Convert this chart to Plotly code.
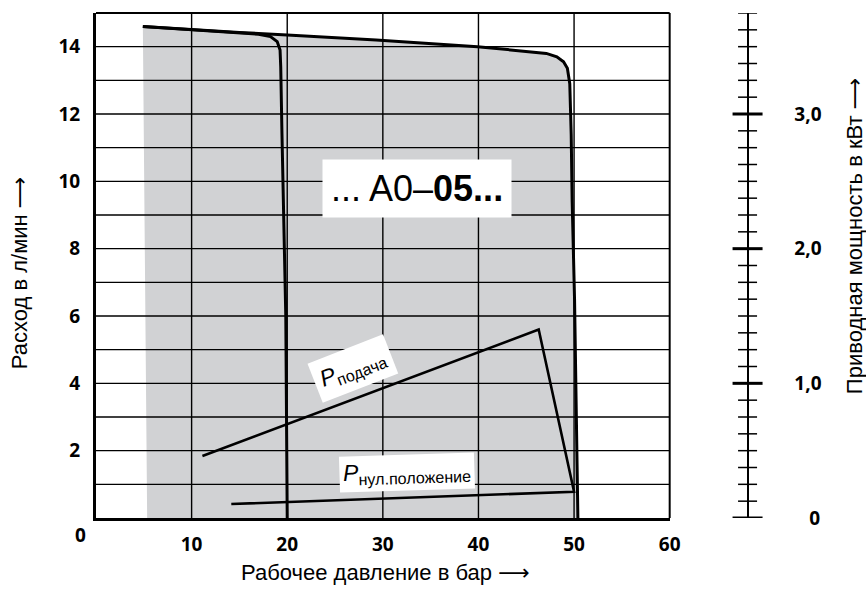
import plotly.graph_objects as go

# Flow curves: pressure (bar) vs. flow (l/min)
p_20bar = [4.9, 10, 15, 17, 18.25, 18.95, 19.25, 19.32, 19.45, 19.6, 19.85, 20.0]
q_20bar = [14.6, 14.5, 14.42, 14.37, 14.3, 14.15, 13.9, 13.4, 11.4, 9.45, 6.0, 0.0]

p_50bar = [4.9, 10, 15, 20, 29.3, 39.9, 47.1, 48.2, 48.9, 49.3, 49.55, 49.7, 49.8, 50.05, 50.2, 50.4]
q_50bar = [14.6, 14.5, 14.42, 14.35, 14.2, 14.0, 13.8, 13.7, 13.55, 13.36, 12.9, 11.4, 9.4, 6.5, 3.5, 0.0]

# Operating area (grey), bounded by the 50 bar curve
area_p = [5.35] + p_50bar
area_q = [0.0] + q_50bar

# Drive power (kW): feed branch, then drop to the zero-stroke branch
power_p = [11.13, 46.3, 50.0, 14.15]
power_kw = [0.46, 1.40, 0.195, 0.104]

x_ticks = [10, 20, 30, 40, 50, 60]
x_grid = [10, 20, 30, 40, 50]
y_grid = list(range(1, 15))
y_labels = [str(v) if v % 2 == 0 else "" for v in y_grid]
kw_ticks = [0, 1, 2, 3]
kw_labels = ["\u00a0\u00a0\u00a00", "1,0", "2,0", "3,0"]
kw_minor = [i / 8 for i in range(31) if i % 8 != 0]

GREY = "#d1d2d4"
TICK_FONT = dict(family="Open Sans", size=19, color="black", weight=700)
TITLE_FONT = dict(family="Liberation Sans, DejaVu Sans", size=22, color="black")

fig = go.Figure()

# Grey operating area as the first (lowest) trace
fig.add_trace(go.Scatter(x=area_p, y=area_q, mode="lines", fill="toself",
                         fillcolor=GREY, line=dict(width=0), hoverinfo="skip"))
fig.add_trace(go.Scatter(x=p_20bar, y=q_20bar, mode="lines",
                         line=dict(color="black", width=3), hoverinfo="skip"))
fig.add_trace(go.Scatter(x=p_50bar, y=q_50bar, mode="lines",
                         line=dict(color="black", width=3), hoverinfo="skip"))
fig.add_trace(go.Scatter(x=power_p, y=power_kw, mode="lines", yaxis="y2",
                         line=dict(color="black", width=2.6), hoverinfo="skip"))

X_END = 0.75584
KW_POS = 0.85844

# Grid lines drawn over the grey area (all strokes are black, so order is harmless)
shapes = []
for gx in x_grid:
    shapes.append(dict(type="line", xref="x", yref="paper", x0=gx, x1=gx, y0=0, y1=1,
                       layer="above", line=dict(color="black", width=1.4)))
for gy in y_grid:
    shapes.append(dict(type="line", xref="paper", yref="y", x0=0, x1=X_END, y0=gy, y1=gy,
                       layer="above", line=dict(color="black", width=1.4)))
# top and right frame edges
shapes.append(dict(type="line", xref="paper", yref="paper", x0=0, x1=X_END, y0=1, y1=1,
                   line=dict(color="black", width=2), layer="above"))
shapes.append(dict(type="line", xref="paper", yref="paper", x0=X_END, x1=X_END, y0=0, y1=1,
                   line=dict(color="black", width=2), layer="above"))
# power scale ticks crossing the spine
for v in kw_ticks:
    shapes.append(dict(type="line", xref="paper", xsizemode="pixel", xanchor=KW_POS,
                       x0=-15, x1=15, yref="y2", y0=v, y1=v,
                       line=dict(color="black", width=3), layer="above"))
for v in kw_minor:
    shapes.append(dict(type="line", xref="paper", xsizemode="pixel", xanchor=KW_POS,
                       x0=-9.5, x1=9.5, yref="y2", y0=v, y1=v,
                       line=dict(color="black", width=1.5), layer="above"))

fig.update_layout(
    width=866, height=590,
    margin=dict(l=96, r=0, t=13, b=72),
    paper_bgcolor="white", plot_bgcolor="white",
    showlegend=False,
    shapes=shapes,
    xaxis=dict(domain=[0, X_END], range=[0, 60], tickmode="array", tickvals=x_ticks,
               showgrid=False, zeroline=False,
               showline=True, linecolor="black", linewidth=3, ticks="",
               ticklabelstandoff=7, tickfont=TICK_FONT),
    yaxis=dict(range=[0, 15], tickmode="array", tickvals=y_grid, ticktext=y_labels,
               showgrid=False, zeroline=False,
               showline=True, linecolor="black", linewidth=3, ticks="",
               ticklabelstandoff=9, tickfont=TICK_FONT),
    yaxis2=dict(overlaying="y", anchor="free", position=KW_POS, side="right",
                range=[0, 3.75], tickmode="array", tickvals=kw_ticks, ticktext=kw_labels,
                showgrid=False, zeroline=False, showline=True, linecolor="black",
                linewidth=2, ticks="", ticklabelstandoff=42, tickfont=TICK_FONT),
)

annotations = [
    dict(text="0", x=0, y=0, xref="x", yref="paper", xshift=-16, yshift=-17,
         showarrow=False, font=TICK_FONT, xanchor="center", yanchor="middle"),
    dict(text="Рабочее давление в бар ⟶", x=0.381, y=-0.107, xref="paper", yref="paper",
         showarrow=False, font=TITLE_FONT, xanchor="center", yanchor="middle"),
    dict(text="Расход в л/мин ⟶", x=-0.1013, y=0.485, xref="paper", yref="paper",
         textangle=-90, showarrow=False, font=TITLE_FONT, xanchor="center", yanchor="middle"),
    dict(text="Приводная мощность в кВт ⟶", x=0.987, y=0.5505, xref="paper", yref="paper",
         xshift=10, yshift=4,
         textangle=-90, showarrow=False, font=TITLE_FONT, xanchor="center", yanchor="middle"),
    dict(text="... A0–<b>05...</b>", x=33.56, y=9.8, xref="x", yref="y",
         showarrow=False, bgcolor="white", borderpad=8,
         font=dict(family="Liberation Sans", size=36, color="black"),
         xanchor="center", yanchor="middle"),
    dict(text="<i>P</i><sub>подача</sub>", x=26.9, y=4.43, xref="x", yref="y",
         textangle=-21.3, showarrow=False, bgcolor="white", borderpad=6,
         font=dict(family="Liberation Sans", size=23, color="black"),
         xanchor="center", yanchor="middle"),
    dict(text="<i>P</i><sub>нул.положение</sub>", x=32.56, y=1.34, xref="x", yref="y",
         textangle=-1.8, showarrow=False, bgcolor="white", borderpad=3,
         font=dict(family="Liberation Sans", size=23, color="black"),
         xanchor="center", yanchor="middle"),
]
fig.update_layout(annotations=annotations)

fig.write_html("out.html")
